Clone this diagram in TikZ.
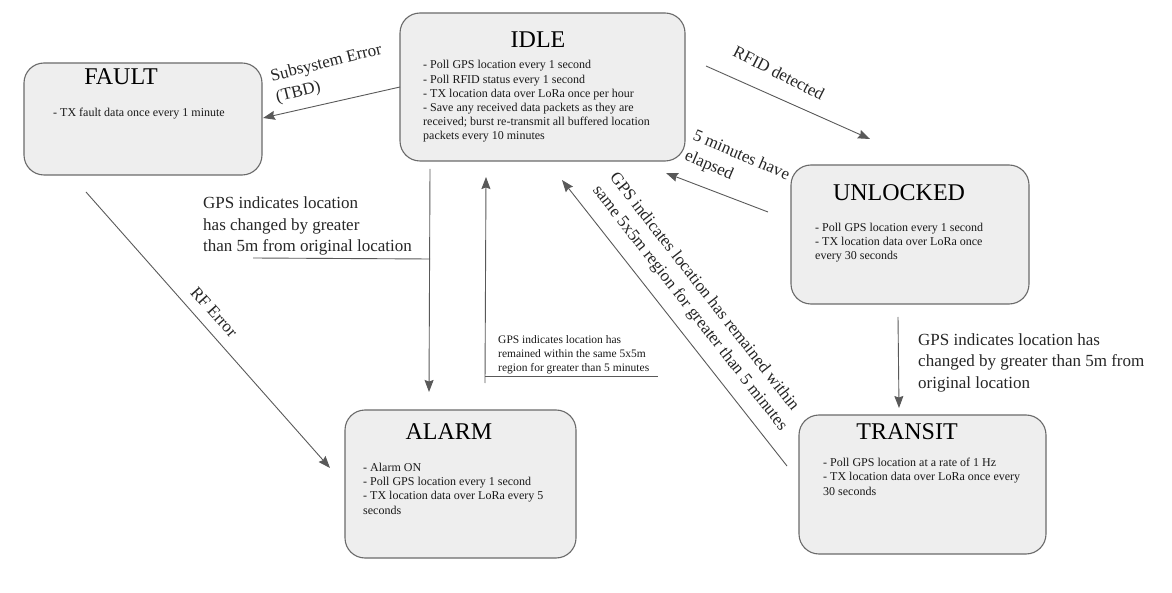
\documentclass[tikz,border=0pt]{standalone}
\usepackage{fontspec}
\setmainfont{Liberation Serif}
\usetikzlibrary{arrows.meta}
\definecolor{boxfill}{HTML}{EEEEEE}
\definecolor{boxline}{HTML}{6A6A6A}
\definecolor{arrowgray}{HTML}{595959}
\tikzset{state/.style = {draw=boxline, fill=boxfill, rounded corners=20, line width=1.1}}
\tikzset{title/.style = {inner sep=0, font=\fontsize{24}{28}\selectfont}}
\tikzset{body/.style = {anchor=base west, inner sep=0, align=left, text=black!90, font=\fontsize{12}{14.2}\selectfont}}
\tikzset{trans/.style = {draw=arrowgray, line width=0.9, -{Stealth[length=12,width=9,inset=1.5]}}}
\tikzset{cond/.style = {inner sep=0, align=left, text=black!85, font=\fontsize{17}{21.5}\selectfont}}
\begin{document}
\begin{tikzpicture}[x=1pt, y=-1pt]
    \useasboundingbox (0, 0) rectangle (1172, 593);
    % states
    \node [state, minimum width=285, minimum height=148] (idle) at (542.5, 87) {};
    \node [state, minimum width=238, minimum height=112] (fault) at (143, 119) {};
    \node [state, minimum width=238, minimum height=139] (unlocked) at (910, 234.5) {};
    \node [state, minimum width=231, minimum height=148] (alarm) at (460.5, 484) {};
    \node [state, minimum width=247, minimum height=139] (transit) at (922.5, 484.5) {};
    \node [title] (idle title) at (538, 40) {IDLE};
    \node [title] (fault title) at (121, 77) {FAULT};
    \node [title] (unlocked title) at (899, 193) {UNLOCKED};
    \node [title] (alarm title) at (449, 432) {ALARM};
    \node [title] (transit title) at (907, 432) {TRANSIT};
    % bodies, placed by the baseline of their last line
    \node [body] (idle body) at (423, 140) {- Poll GPS location every 1 second\\
      - Poll RFID status every 1 second\\
      - TX location data over LoRa once per hour\\
      - Save any received data packets as they are\\
      received; burst re-transmit all buffered location\\
      packets every 10 minutes};
    \node [body] (fault body) at (53, 117) {- TX fault data once every 1 minute};
    \node [body] (unlocked body) at (815, 260) {- Poll GPS location every 1 second\\
      - TX location data over LoRa once\\
      every 30 seconds};
    \node [body] (alarm body) at (363, 514) {- Alarm ON\\
      - Poll GPS location every 1 second\\
      - TX location data over LoRa every 5\\
      seconds};
    \node [body] (transit body) at (823, 495) {- Poll GPS location at a rate of 1 Hz\\
      - TX location data over LoRa once every\\
      30 seconds};
    % arrow ends
    \coordinate (idle-fault a) at (400, 87);
    \coordinate (idle-fault b) at (263, 118);
    \coordinate (idle-unlocked a) at (706, 66);
    \coordinate (idle-unlocked b) at (870, 139);
    \coordinate (unlocked-idle a) at (768, 212);
    \coordinate (unlocked-idle b) at (666, 173);
    \coordinate (fault-alarm a) at (86, 192);
    \coordinate (fault-alarm b) at (330, 468);
    \coordinate (idle-alarm a) at (430, 169);
    \coordinate (idle-alarm b) at (429, 392);
    \coordinate (alarm-idle a) at (485, 383);
    \coordinate (alarm-idle b) at (486, 177);
    \coordinate (transit-idle a) at (787, 466);
    \coordinate (transit-idle b) at (562, 180);
    \coordinate (unlocked-transit a) at (898, 317);
    \coordinate (unlocked-transit b) at (899, 408);
    \coordinate (moved tick) at (253, 258);
    \coordinate (moved join) at (430, 259);
    \coordinate (still join) at (485, 376);
    \coordinate (still tick) at (658, 376);
    % transitions
    \draw [trans] (idle-fault a) -- (idle-fault b);
    \draw [trans] (idle-unlocked a) -- (idle-unlocked b);
    \draw [trans] (unlocked-idle a) -- (unlocked-idle b);
    \draw [trans] (fault-alarm a) -- (fault-alarm b);
    \draw [trans] (idle-alarm a) -- (idle-alarm b);
    \draw [trans] (alarm-idle a) -- (alarm-idle b);
    \draw [trans] (transit-idle a) -- (transit-idle b);
    \draw [trans] (unlocked-transit a) -- (unlocked-transit b);
    \draw [draw=arrowgray, line width=0.9] (moved tick) -- (moved join);
    \draw [draw=arrowgray, line width=0.9] (still join) -- (still tick);
    % conditions
    \node [cond, rotate=14] (error label) at (329, 74) {Subsystem Error\\(TBD)};
    \node [cond, rotate=-27] (rfid label) at (779, 73) {RFID detected};
    \node [cond, rotate=-23] (timeout label) at (737, 166) {5 minutes have\\elapsed};
    \node [cond, rotate=-48] (rf label) at (214, 312) {RF Error};
    \node [cond, anchor=base west] (moved label) at (203, 252) {GPS indicates location\\
      has changed by greater\\than 5m from original location};
    \node [cond, anchor=base west] (transit label) at (918, 388) {GPS indicates location has\\
      changed by greater than 5m from\\original location};
    \node [body, font=\fontsize{11.5}{14}\selectfont] (still label) at (498, 371) {GPS indicates location has\\
      remained within the same 5x5m\\region for greater than 5 minutes};
    \node [cond, rotate=-52] (parked label) at (698, 302) {GPS indicates location has remained within\\
      same 5x5m region for greater than 5 minutes};
\end{tikzpicture}
\end{document}
